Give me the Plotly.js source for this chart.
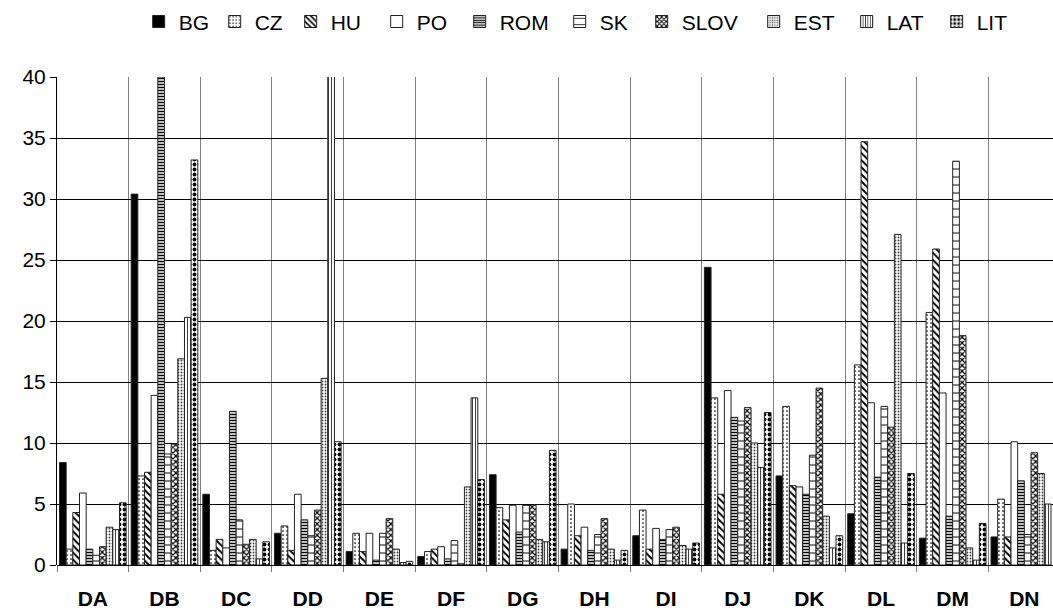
<!DOCTYPE html>
<html><head><meta charset="utf-8">
<script src="https://cdn.plot.ly/plotly-3.0.1.min.js"></script>
<style>html,body{margin:0;padding:0;background:#fff}#chart{width:1053px;height:612px}</style>
</head><body><div id="chart"></div>
<script>
const categories = ['DA','DB','DC','DD','DE','DF','DG','DH','DI','DJ','DK','DL','DM','DN'];
const seriesNames = ['BG','CZ','HU','PO','ROM','SK','SLOV','EST','LAT','LIT'];
const BG   = [8.4, 30.4, 5.8, 2.6, 1.1, 0.7, 7.4, 1.3, 2.4, 24.4, 7.3, 4.2, 2.2, 2.3];
const CZ   = [1.3, 7.3, 1.2, 3.2, 2.6, 1.1, 4.7, 5.0, 4.5, 13.7, 13.0, 16.4, 20.7, 5.4];
const HU   = [4.3, 7.6, 2.1, 1.2, 1.1, 1.3, 3.7, 2.4, 1.3, 5.8, 6.5, 34.7, 25.9, 2.3];
const PO   = [5.9, 13.9, 1.4, 5.8, 2.6, 1.5, 4.9, 3.1, 3.0, 14.3, 6.4, 13.3, 14.1, 10.1];
const ROM  = [1.3, 40.0, 12.6, 3.7, 0.4, 0.5, 2.7, 1.2, 2.1, 12.1, 5.8, 7.2, 4.0, 6.9];
const SK   = [0.8, 9.1, 3.7, 2.4, 2.6, 2.0, 4.9, 2.5, 2.9, 11.8, 9.0, 13.0, 33.1, 2.5];
const SLOV = [1.5, 9.9, 1.7, 4.5, 3.8, 0.1, 4.9, 3.8, 3.1, 12.9, 14.5, 11.3, 18.8, 9.2];
const EST  = [3.1, 16.9, 2.1, 15.3, 1.3, 6.4, 2.1, 1.3, 1.6, 10.0, 4.0, 27.1, 1.4, 7.5];
const LAT  = [2.9, 20.3, 0.5, 40.7, 0.2, 13.7, 1.9, 0.4, 1.3, 8.0, 1.4, 1.8, 0.4, 5.0];
const LIT  = [5.1, 33.2, 1.9, 10.1, 0.3, 7.0, 9.4, 1.2, 1.8, 12.5, 2.4, 7.5, 3.4, null];
const yTicks = [0, 5, 10, 15, 20, 25, 30, 35, 40];

const seriesValues = [BG, CZ, HU, PO, ROM, SK, SLOV, EST, LAT, LIT];

// fill styles (patterns) and legend entry widths per series
const styles = [
  {color:'black', pattern:{shape:''}},
  {color:'white', pattern:{shape:'.', size:4, solidity:0.15}},
  {color:'white', pattern:{shape:'\\', size:5, solidity:0.4}},
  {color:'white', pattern:{shape:''}},
  {color:'white', pattern:{shape:'-', size:3, solidity:0.5}},
  {color:'white', pattern:{shape:'-', size:8, solidity:0.12}},
  {color:'white', pattern:{shape:'x', size:4, solidity:0.5}},
  {color:'white', pattern:{shape:'.', size:3, solidity:0.3, fgcolor:'#444'}},
  {color:'white', pattern:{shape:'|', size:3, solidity:0.25}},
  {color:'white', pattern:{shape:'.', size:5, solidity:0.45}}
];
const legendWidths = [31, 31, 41, 38, 55, 37, 67, 48, 45, 40];

const traces = seriesNames.map((name, i) => {
  const st = styles[i];
  const pat = st.pattern.shape ? Object.assign({fgcolor:'black', bgcolor:'white', fillmode:'replace'}, st.pattern) : {shape:''};
  return {
    type:'bar', name:name, x:categories, y:seriesValues[i],
    marker:{color:st.color, line:{color:'#222', width:1}, pattern:pat},
    legendwidth: legendWidths[i],
    cliponaxis: name === 'LAT' ? false : true,
    hoverinfo:'x+y+name'
  };
});

const layout = {
  width:1053, height:612,
  margin:{l:57, r:0, t:77, b:47, pad:0},
  paper_bgcolor:'white', plot_bgcolor:'white',
  font:{family:'Liberation Sans, Arial, sans-serif', size:21, color:'black'},
  barmode:'group', bargap:0.07, bargroupgap:0,
  showlegend:true,
  legend:{orientation:'h', x:0.082, xanchor:'left', y:1.113, yanchor:'middle',
          font:{size:21}, bgcolor:'rgba(0,0,0,0)', borderwidth:0, traceorder:'normal'},
  xaxis:{type:'category', range:[-0.5, 13.4], tickson:'boundaries', ticks:'outside',
         ticklen:6, tickcolor:'#808080', showgrid:true, gridcolor:'#808080', gridwidth:1,
         showline:false, zeroline:false, ticklabelstandoff:19,
         tickfont:{size:21, weight:'bold', color:'black'}, fixedrange:true},
  yaxis:{range:[0, 40], tickvals:yTicks, ticktext:yTicks.map(String), ticks:'outside', ticklen:6,
         tickcolor:'black', showgrid:true, gridcolor:'black', gridwidth:1,
         showline:true, linecolor:'black', linewidth:1, zeroline:true, zerolinecolor:'black',
         zerolinewidth:1, tickfont:{size:21}, fixedrange:true}
};

Plotly.newPlot('chart', traces, layout, {displayModeBar:false, staticPlot:true});
</script></body></html>
